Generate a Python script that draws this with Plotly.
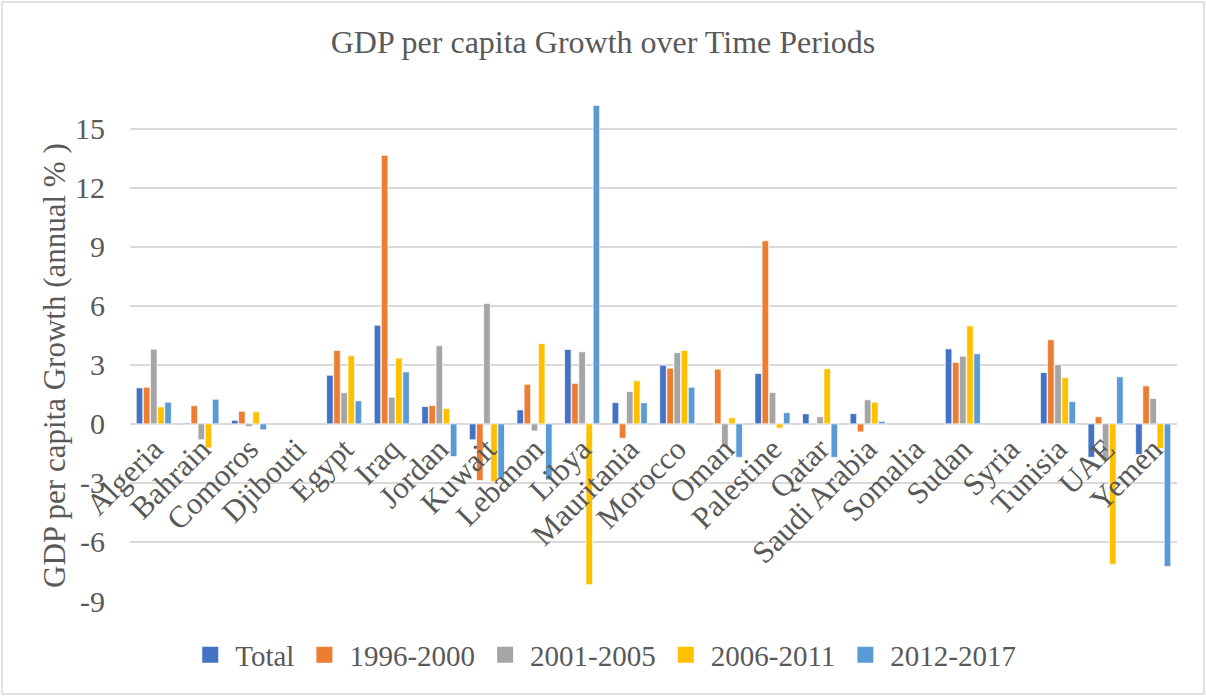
import plotly.graph_objects as go

countries = ["Algeria", "Bahrain", "Comoros", "Djibouti", "Egypt", "Iraq", "Jordan",
             "Kuwait", "Lebanon", "Libya", "Mauritania", "Morocco", "Oman", "Palestine",
             "Qatar", "Saudi Arabia", "Somalia", "Sudan", "Syria", "Tunisia", "UAE", "Yemen"]

series_names = ["Total", "1996-2000", "2001-2005", "2006-2011", "2012-2017"]

total     = [1.83, 0.05, 0.18, None, 2.47, 5.01, 0.88, -0.81, 0.71, 3.78, 1.08, 2.98, None, 2.56,
             0.51, 0.52, None, 3.81, None, 2.61, -1.70, -1.56]
p1996     = [1.86, 0.92, 0.64, None, 3.73, 13.64, 0.93, -2.88, 2.01, 2.06, -0.73, 2.83, 2.78, 9.30,
             None, -0.41, None, 3.12, None, 4.27, 0.36, 1.93]
p2001     = [3.79, -0.81, -0.14, None, 1.58, 1.35, 3.97, 6.12, -0.36, 3.66, 1.64, 3.62, -1.15, 1.59,
             0.36, 1.22, None, 3.44, None, 3.01, -1.85, 1.29]
p2006     = [0.86, -1.22, 0.61, None, 3.46, 3.34, 0.78, -2.93, 4.08, -8.17, 2.19, 3.73, 0.31, -0.22,
             2.80, 1.10, None, 4.98, None, 2.35, -7.13, -1.25]
p2012     = [1.10, 1.25, -0.30, None, 1.17, 2.64, -1.66, -2.75, -2.85, 16.18, 1.07, 1.86, -1.70, 0.57,
             -1.70, 0.13, None, 3.56, None, 1.13, 2.39, -7.25]

series_values = [total, p1996, p2001, p2006, p2012]
colors = ["#4472C4", "#ED7D31", "#A5A5A5", "#FFC000", "#5B9BD5"]

y_tick_vals = [-9, -6, -3, 0, 3, 6, 9, 12, 15]
y_tick_text = ["-9", "-6", "-3", "0", "3", "6", "9", "12", "15"]

title_text = "GDP per capita Growth over Time Periods"
y_title_text = "GDP per capita Growth (annual % )"

y_min, y_max = -9, 16.25

FONT = "Liberation Serif, Times New Roman, serif"
GREY = "#595959"

fig = go.Figure()
for name, vals, col in zip(series_names, series_values, colors):
    fig.add_trace(go.Bar(
        x=countries, y=vals, name=name, showlegend=False, legendgroup=name,
        marker=dict(color=col, line=dict(color="white", width=0.7)),
    ))
# legend entries with square swatches
for name, col in zip(series_names, colors):
    fig.add_trace(go.Scatter(
        x=[None], y=[None], mode="markers", name=name, legendgroup=name,
        marker=dict(symbol="square", size=16, color=col),
    ))

fig.update_layout(
    width=1206, height=696,
    paper_bgcolor="white", plot_bgcolor="white",
    barmode="group", bargap=0.25, bargroupgap=0.08,
    margin=dict(l=130, r=29, t=104, b=95, autoexpand=False),
    font=dict(family=FONT, color=GREY, size=29),
    title=dict(text=title_text,
               x=0.5, xref="container", xanchor="center",
               y=1 - 42 / 696, yref="container", yanchor="middle",
               font=dict(family=FONT, size=32, color=GREY)),
    legend=dict(orientation="h", x=0.452, xanchor="center",
                y=-54 / 497, yanchor="middle", itemwidth=40,
                font=dict(family=FONT, size=29, color=GREY),
                itemclick=False),
    xaxis=dict(type="category", anchor="free",
               position=(0 - y_min) / (y_max - y_min),
               range=[-0.5, len(countries) - 0.5],
               showline=False, ticks="", showgrid=False,
               tickangle=-45, automargin=False,
               tickfont=dict(family=FONT, size=31, color=GREY)),
    yaxis=dict(range=[y_min, y_max], tickmode="array",
               tickvals=y_tick_vals, ticktext=y_tick_text,
               showgrid=True, gridcolor="#D9D9D9", gridwidth=1.5,
               zeroline=True, zerolinecolor="#D9D9D9", zerolinewidth=1.5,
               showline=False, ticks="", automargin=False,
               ticklabelstandoff=24,
               tickfont=dict(family=FONT, size=30, color=GREY)),
)

# y-axis title placed like the original (centred slightly below the plot centre)
fig.add_annotation(text=y_title_text, textangle=-90, showarrow=False,
                   xref="paper", yref="paper",
                   x=(54 - 130) / 1047, y=(601 - 366) / 497,
                   xanchor="center", yanchor="middle",
                   font=dict(family=FONT, size=31, color=GREY))

# chart-area frame
fig.add_shape(type="rect", xref="paper", yref="paper",
              x0=-128 / 1047, x1=1 + 27 / 1047, y0=-93 / 497, y1=1 + 102 / 497,
              line=dict(color="#D9D9D9", width=1.5), fillcolor="rgba(0,0,0,0)", layer="below")

fig.write_html("out.html", config={"displayModeBar": False},
               post_script="document.body.style.margin='0';")
